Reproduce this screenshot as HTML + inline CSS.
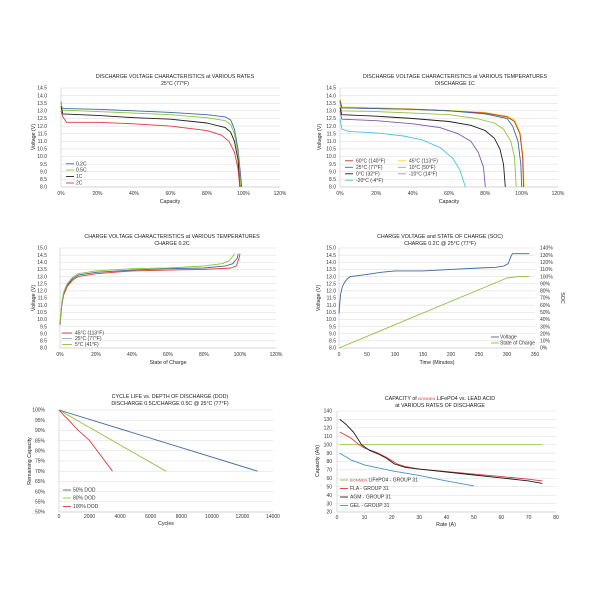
<!DOCTYPE html>
<html><head><meta charset="utf-8"><style>
html,body{margin:0;padding:0;background:#fff;}
svg{display:block;font-family:"Liberation Sans",sans-serif;}
text{font-size:5px;fill:#333;}
.t{font-size:5.3px;text-anchor:middle;fill:#222;}
.yl text{text-anchor:end;}
.xl text{text-anchor:middle;}
.al{font-size:5.3px;text-anchor:middle;fill:#222;}
</style></head><body>
<svg id="s" width="600" height="600" viewBox="0 0 600 600" xmlns="http://www.w3.org/2000/svg">
<rect width="600" height="600" fill="#fff"/>
<g id="grid"></g>
<g id="lines"></g>

<!-- Panel 1 -->
<text class="t" x="175" y="78">DISCHARGE VOLTAGE CHARACTERISTICS at VARIOUS RATES</text>
<text class="t" x="175" y="85">25°C (77°F)</text>
<g class="yl">
<text x="47" y="89.7">14.5</text><text x="47" y="97.3">14.0</text><text x="47" y="104.9">13.5</text><text x="47" y="112.5">13.0</text><text x="47" y="120.2">12.5</text><text x="47" y="127.8">12.0</text><text x="47" y="135.4">11.5</text><text x="47" y="143">11.0</text><text x="47" y="150.6">10.5</text><text x="47" y="158.2">10.0</text><text x="47" y="165.9">9.5</text><text x="47" y="173.5">9.0</text><text x="47" y="181.1">8.5</text><text x="47" y="188.7">8.0</text>
</g>
<g class="xl">
<text x="61" y="195">0%</text><text x="97.5" y="195">20%</text><text x="134" y="195">40%</text><text x="170.5" y="195">60%</text><text x="207" y="195">80%</text><text x="243.5" y="195">100%</text><text x="280" y="195">120%</text>
</g>
<text class="al" x="170" y="203">Capacity</text>
<text class="al" transform="translate(35,137) rotate(-90)">Voltage (V)</text>
<text x="76" y="165.5">0.2C</text><text x="76" y="171.5">0.5C</text><text x="76" y="178">1C</text><text x="76" y="184.5">2C</text>

<!-- Panel 2 -->
<text class="t" x="455" y="78">DISCHARGE VOLTAGE CHARACTERISTICS at VARIOUS TEMPERATURES</text>
<text class="t" x="455" y="85">DISCHARGE 1C</text>
<g class="yl">
<text x="336" y="89.7">14.5</text><text x="336" y="97.3">14.0</text><text x="336" y="104.9">13.5</text><text x="336" y="112.5">13.0</text><text x="336" y="120.2">12.5</text><text x="336" y="127.8">12.0</text><text x="336" y="135.4">11.5</text><text x="336" y="143">11.0</text><text x="336" y="150.6">10.5</text><text x="336" y="158.2">10.0</text><text x="336" y="165.9">9.5</text><text x="336" y="173.5">9.0</text><text x="336" y="181.1">8.5</text><text x="336" y="188.7">8.0</text>
</g>
<g class="xl">
<text x="340" y="195">0%</text><text x="376.3" y="195">20%</text><text x="412.7" y="195">40%</text><text x="449" y="195">60%</text><text x="485.3" y="195">80%</text><text x="521.7" y="195">100%</text><text x="558" y="195">120%</text>
</g>
<text class="al" x="449" y="203">Capacity</text>
<text class="al" transform="translate(321,137) rotate(-90)">Voltage (V)</text>
<text x="356" y="162.5">60°C  (140°F)</text><text x="409" y="162.5">45°C  (113°F)</text>
<text x="356" y="169">25°C  (77°F)</text><text x="409" y="169">10°C  (50°F)</text>
<text x="356" y="175.5">  0°C  (32°F)</text><text x="409" y="175.5">-10°C  (14°F)</text>
<text x="356" y="182">-20°C  (-4°F)</text>

<!-- Panel 3 -->
<text class="t" x="172" y="238">CHARGE VOLTAGE CHARACTERISTICS at VARIOUS TEMPERATURES</text>
<text class="t" x="172" y="245">CHARGE 0.2C</text>
<g class="yl" id="y3">
<text x="47" y="249.7">15.0</text><text x="47" y="256.8">14.5</text><text x="47" y="264">14.0</text><text x="47" y="271.1">13.5</text><text x="47" y="278.3">13.0</text><text x="47" y="285.4">12.5</text><text x="47" y="292.6">12.0</text><text x="47" y="299.7">11.5</text><text x="47" y="306.8">11.0</text><text x="47" y="314">10.5</text><text x="47" y="321.1">10.0</text><text x="47" y="328.3">9.5</text><text x="47" y="335.4">9.0</text><text x="47" y="342.6">8.5</text><text x="47" y="349.7">8.0</text>
</g>
<g class="xl">
<text x="60" y="356">0%</text><text x="96" y="356">20%</text><text x="132" y="356">40%</text><text x="168" y="356">60%</text><text x="204" y="356">80%</text><text x="240" y="356">100%</text><text x="276" y="356">120%</text>
</g>
<text class="al" x="168" y="364">State of Charge</text>
<text class="al" transform="translate(35,298) rotate(-90)">Voltage (V)</text>
<text x="75" y="334.5">45°C  (113°F)</text><text x="75" y="340">25°C  (77°F)</text><text x="75" y="346">  5°C  (41°F)</text>

<!-- Panel 4 -->
<text class="t" x="440" y="238">CHARGE VOLTAGE and STATE OF CHARGE (SOC)</text>
<text class="t" x="440" y="245">CHARGE 0.2C @ 25°C (77°F)</text>
<g class="yl">
<text x="336" y="249.7">15.0</text><text x="336" y="256.8">14.5</text><text x="336" y="264">14.0</text><text x="336" y="271.1">13.5</text><text x="336" y="278.3">13.0</text><text x="336" y="285.4">12.5</text><text x="336" y="292.6">12.0</text><text x="336" y="299.7">11.5</text><text x="336" y="306.8">11.0</text><text x="336" y="314">10.5</text><text x="336" y="321.1">10.0</text><text x="336" y="328.3">9.5</text><text x="336" y="335.4">9.0</text><text x="336" y="342.6">8.5</text><text x="336" y="349.7">8.0</text>
</g>
<g>
<text x="540" y="249.7">140%</text><text x="540" y="256.8">130%</text><text x="540" y="264">120%</text><text x="540" y="271.1">110%</text><text x="540" y="278.3">100%</text><text x="540" y="285.4">90%</text><text x="540" y="292.6">80%</text><text x="540" y="299.7">70%</text><text x="540" y="306.8">60%</text><text x="540" y="314">50%</text><text x="540" y="321.1">40%</text><text x="540" y="328.3">30%</text><text x="540" y="335.4">20%</text><text x="540" y="342.6">10%</text><text x="540" y="349.7">0%</text>
</g>
<g class="xl">
<text x="339" y="356">0</text><text x="367" y="356">50</text><text x="395" y="356">100</text><text x="423" y="356">150</text><text x="451" y="356">200</text><text x="479" y="356">250</text><text x="507" y="356">300</text><text x="535" y="356">350</text>
</g>
<text class="al" x="437" y="364">Time (Minutes)</text>
<text class="al" transform="translate(320,298) rotate(-90)">Voltage (V)</text>
<text class="al" transform="translate(561,298) rotate(90)">SOC</text>
<text x="500" y="338.5">Voltage</text><text x="500" y="344.5">State of Charge</text>

<!-- Panel 5 -->
<text class="t" x="170" y="398">CYCLE LIFE vs. DEPTH OF DISCHARGE (DOD)</text>
<text class="t" x="170" y="405">DISCHARGE 0.5C/CHARGE 0.5C @ 25°C (77°F)</text>
<g class="yl">
<text x="45" y="411.7">100%</text><text x="45" y="421.9">95%</text><text x="45" y="432.1">90%</text><text x="45" y="442.3">85%</text><text x="45" y="452.5">80%</text><text x="45" y="462.7">75%</text><text x="45" y="472.9">70%</text><text x="45" y="483.1">65%</text><text x="45" y="493.3">60%</text><text x="45" y="503.5">55%</text><text x="45" y="513.7">50%</text>
</g>
<g class="xl">
<text x="59" y="518">0</text><text x="89.6" y="518">2000</text><text x="120.1" y="518">4000</text><text x="150.7" y="518">6000</text><text x="181.3" y="518">8000</text><text x="211.9" y="518">10000</text><text x="242.4" y="518">12000</text><text x="273" y="518">14000</text>
</g>
<text class="al" x="166" y="525">Cycles</text>
<text class="al" transform="translate(31,461) rotate(-90)">Remaining Capacity</text>
<text x="73" y="491.5">50% DOD</text><text x="73" y="499.5">80% DOD</text><text x="73" y="508">100% DOD</text>

<!-- Panel 6 -->
<text class="t" x="440" y="400">CAPACITY of <tspan fill="#e0303a" font-size="4px">BONNEN</tspan> LiFePO4 vs. LEAD ACID</text>
<text class="t" x="440" y="407">at VARIOUS RATES OF DISCHARGE</text>
<g class="yl">
<text x="332" y="412.7">140</text><text x="332" y="421.1">130</text><text x="332" y="429.5">120</text><text x="332" y="437.9">110</text><text x="332" y="446.4">100</text><text x="332" y="454.8">90</text><text x="332" y="463.2">80</text><text x="332" y="471.6">70</text><text x="332" y="480">60</text><text x="332" y="488.5">50</text><text x="332" y="496.9">40</text><text x="332" y="505.3">30</text><text x="332" y="513.7">20</text>
</g>
<g class="xl">
<text x="337" y="519">0</text><text x="364.4" y="519">10</text><text x="391.8" y="519">20</text><text x="419.1" y="519">30</text><text x="446.5" y="519">40</text><text x="473.9" y="519">50</text><text x="501.3" y="519">60</text><text x="528.6" y="519">70</text><text x="556" y="519">80</text>
</g>
<text class="al" x="446" y="526">Rate (A)</text>
<text class="al" transform="translate(319,461) rotate(-90)">Capacity (Ah)</text>
<text x="350" y="481.5"><tspan fill="#e0303a" font-size="4px">BONNEN</tspan> LiFePO4 - GROUP 31</text>
<text x="350" y="490">FLA - GROUP 31</text><text x="350" y="498.5">AGM - GROUP 31</text><text x="350" y="507">GEL - GROUP 31</text>
</svg>
<script>
var NS="http://www.w3.org/2000/svg",G=document.getElementById("grid"),L=document.getElementById("lines");
function el(p,tag,a){var e=document.createElementNS(NS,tag);for(var k in a)e.setAttribute(k,a[k]);p.appendChild(e);return e;}
function panel(x0,x1,y0,y1,n){for(var i=0;i<=n;i++){var y=y0+(y1-y0)*i/n;el(G,"line",{x1:x0,x2:x1,y1:y,y2:y,stroke:"#d9d9d9","stroke-width":0.5});}
el(G,"line",{x1:x0,x2:x0,y1:y0,y2:y1,stroke:"#bbb","stroke-width":0.5});el(G,"line",{x1:x0,x2:x1,y1:y1,y2:y1,stroke:"#bbb","stroke-width":0.5});}
function pl(pts,fx,fy,c,w){el(L,"polyline",{points:pts.map(function(p){return fx(p[0]).toFixed(1)+","+fy(p[1]).toFixed(1)}).join(" "),fill:"none",stroke:c,"stroke-width":w||0.9,"stroke-linejoin":"round"});}
function seg(x1,x2,y,c){el(L,"line",{x1:x1,x2:x2,y1:y,y2:y,stroke:c,"stroke-width":0.9});}
var BL="#3b6a9a",GR="#8dc23f",BK="#1e1e1e",RD="#e0393e",YL="#f2d61a",PU="#7e5aa5",CY="#4fc5e3",OR="#c43a1c";
panel(61,280,88,187,13);
var f1x=function(v){return 61+v/120*219},f1y=function(v){return 187-(v-8)/6.5*99};
pl([[0,13.6],[0.5,13.2],[2,13.15],[20,13.1],[40,13.0],[60,12.9],[80,12.75],[90,12.6],[93,12.4],[95,11.8],[97,10.5],[98,9.3],[99,8.0]],f1x,f1y,BL);
pl([[0,13.5],[1,13.05],[20,12.95],[40,12.85],[60,12.75],[80,12.55],[90,12.35],[93,12.1],[95,11.5],[97,10.2],[98.5,8.0]],f1x,f1y,GR);
pl([[0,13.3],[1,12.8],[20,12.7],[40,12.55],[60,12.45],[80,12.2],[90,11.9],[93,11.6],[95,11.0],[97,9.8],[98,8.0]],f1x,f1y,BK);
pl([[0,13.0],[1,12.6],[3,12.25],[20,12.25],[40,12.15],[60,12.0],[80,11.7],[88,11.4],[92,11.0],[95,10.3],[97,9.2],[98,8.0]],f1x,f1y,RD);
seg(66,74,163.8,BL);seg(66,74,170,GR);seg(66,74,176.5,BK);seg(66,74,183,RD);
panel(340,558,88,187,13);
var f2x=function(v){return 340+v/120*218};
pl([[0,13.75],[1,13.25],[20,13.2],[40,13.12],[60,13.02],[80,12.88],[92,12.65],[96,12.4],[99,11.6],[100.8,10],[101.3,8]],f2x,f1y,YL,1.1);
pl([[0,13.7],[1,13.2],[20,13.15],[40,13.1],[60,13.0],[80,12.85],[92,12.6],[96,12.3],[99,11.5],[100.5,10],[101,8]],f2x,f1y,OR);
pl([[0,13.6],[1,13.2],[20,13.15],[40,13.1],[60,13.0],[80,12.8],[92,12.5],[95,12.0],[98,11],[99.5,9.5],[100,8]],f2x,f1y,BL);
pl([[0,13.4],[1,13.0],[20,12.95],[40,12.85],[60,12.75],[75,12.5],[85,12.2],[90,11.8],[94,11],[96,10],[97,8]],f2x,f1y,GR);
pl([[0,13.2],[1,12.75],[20,12.65],[40,12.5],[60,12.3],[72,12.05],[80,11.7],[85,11.2],[88,10.5],[90,9.5],[91,8]],f2x,f1y,BK);
pl([[0,13.0],[1,12.45],[20,12.35],[40,12.15],[55,11.9],[65,11.5],[72,11],[76,10.3],[79,9.3],[80,8]],f2x,f1y,PU);
pl([[0,12.5],[1,11.8],[5,11.65],[20,11.55],[35,11.35],[45,11.1],[55,10.6],[62,9.9],[66,9.1],[69,8]],f2x,f1y,CY);
seg(345,353,160.8,OR);seg(398,406,160.8,YL);seg(345,353,167.3,BL);seg(398,406,167.3,GR);seg(345,353,173.8,BK);seg(398,406,173.8,"#999");seg(345,353,180.3,CY);
panel(60,276,248,348,14);
var f3x=function(v){return 60+v/120*216},f3y=function(v){return 348-(v-8)/7*100};
pl([[0,9.6],[1,11],[2,11.7],[4,12.3],[7,12.75],[10,13.0],[20,13.2],[40,13.4],[60,13.45],[80,13.5],[95,13.6],[98,13.75],[99.5,14.3],[100,14.6]],f3x,f3y,RD);
pl([[0,9.7],[1,11.1],[2,11.8],[4,12.4],[7,12.85],[10,13.1],[20,13.3],[40,13.45],[60,13.55],[80,13.6],[92,13.75],[96,13.9],[98.5,14.3],[99,14.6]],f3x,f3y,BL);
pl([[0,9.8],[1,11.2],[2,11.9],[4,12.5],[7,12.95],[10,13.2],[20,13.4],[40,13.55],[60,13.6],[80,13.75],[90,13.9],[94,14.1],[96.5,14.5],[97,14.6]],f3x,f3y,GR);
seg(62,72,333,RD);seg(62,72,338.5,"#8aaed0");seg(62,72,344.5,GR);
panel(339,535,248,348,14);
var f4x=function(v){return 339+v/350*196},f4s=function(v){return 348-v/140*100};
pl([[0,10.4],[1,11],[3,11.8],[6,12.3],[10,12.6],[15,12.85],[20,13.0],[30,13.05],[50,13.15],[75,13.3],[100,13.4],[150,13.4],[200,13.5],[250,13.6],[280,13.65],[295,13.75],[302,13.9],[308,14.5],[310,14.6],[340,14.6]],f4x,f3y,BL);
pl([[0,0],[300,98],[310,99],[320,100],[340,100]],f4x,f4s,GR);
seg(491,499,337,BL);seg(491,499,343,GR);
panel(59,273,410,512,10);
var f5x=function(v){return 59+v/14000*214},f5y=function(v){return 410+(100-v)/50*102};
pl([[0,100],[13000,70]],f5x,f5y,BL);
pl([[0,100],[7000,70]],f5x,f5y,GR);
pl([[0,100],[300,97.5],[700,94.5],[1200,90.5],[2000,85],[2800,77],[3500,70]],f5x,f5y,RD);
seg(63,71,490,BL);seg(63,71,498,GR);seg(63,71,506.5,RD);
panel(337,556,411,512,12);
var f6x=function(v){return 337+v/80*219},f6y=function(v){return 512-(v-20)/120*101};
pl([[1,100],[75,100]],f6x,f6y,GR);
pl([[1,90],[5,82],[10,76],[20,69],[30,63.5],[40,57],[50,51]],f6x,f6y,"#4a8fc6");
pl([[1,115],[5,108],[8,100],[10,96],[15,90],[18,85],[22,77],[25,74],[30,71],[40,68],[50,65],[60,62],[70,59],[75,57]],f6x,f6y,RD);
pl([[1,130],[3,125],[6,115],[9,100],[12,93],[15,89],[18,84],[21,77],[25,73],[30,71],[40,67.5],[50,64],[60,60.5],[70,57],[75,54]],f6x,f6y,BK);
seg(340,348,480,GR);seg(340,348,488.5,RD);seg(340,348,497,BK);seg(340,348,505.5,"#4a8fc6");
</script>
</body></html>
